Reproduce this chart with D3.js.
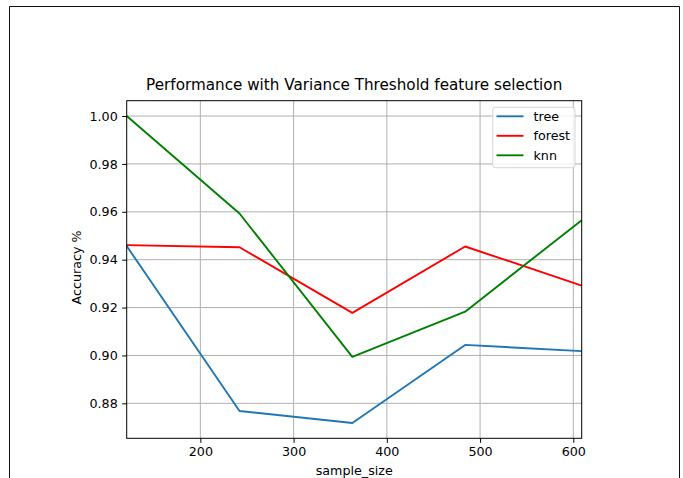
<!DOCTYPE html>
<html>
<head>
<meta charset="utf-8">
<script src="https://cdn.jsdelivr.net/npm/d3@7"></script>
<style>
  body { margin: 0; background: #fff; }
  svg { display: block; font-family: "DejaVu Sans", sans-serif; }
</style>
</head>
<body>
<svg id="chart" width="683" height="478"></svg>
<script>
// data
const sampleSizes = [121, 242, 363, 484, 609];
const treeAcc = [0.9457, 0.8768, 0.8718, 0.9044, 0.9018];
const forestAcc = [0.9461, 0.9452, 0.9178, 0.9455, 0.9292];
const knnAcc = [1.0, 0.9593, 0.8994, 0.9183, 0.9565];
const xTicks = [200, 300, 400, 500, 600];
const yTicks = [0.88, 0.90, 0.92, 0.94, 0.96, 0.98, 1.00];

const series = [
  { name: 'tree', values: treeAcc, color: '#1f77b4' },
  { name: 'forest', values: forestAcc, color: '#ff0000' },
  { name: 'knn', values: knnAcc, color: '#008000' }
];

const svg = d3.select('#chart');
const plotLeft = 126.7, plotRight = 581.7, plotTop = 100.7, plotBottom = 438.3;

// screenshot frame
svg.append('path')
  .attr('d', 'M9.5,478 L9.5,6.5 L679.5,6.5 L679.5,478')
  .attr('fill', 'none')
  .attr('stroke', '#111')
  .attr('stroke-width', 1);

const x = d3.scaleLinear().domain(d3.extent(sampleSizes)).range([plotLeft, plotRight]);
const allVals = series.flatMap(s => s.values);
const yMin = d3.min(allVals), yMax = d3.max(allVals);
const pad = (yMax - yMin) * 0.05;
const y = d3.scaleLinear().domain([yMin - pad, yMax + pad]).range([plotBottom, plotTop]);

// grid
const grid = svg.append('g').attr('stroke', '#b0b0b0').attr('stroke-width', 1);
xTicks.forEach(t => {
  grid.append('line').attr('x1', x(t)).attr('x2', x(t)).attr('y1', plotTop).attr('y2', plotBottom);
});
yTicks.forEach(t => {
  grid.append('line').attr('x1', plotLeft).attr('x2', plotRight).attr('y1', y(t)).attr('y2', y(t));
});

// lines
const line = d3.line().x((d, i) => x(sampleSizes[i])).y(d => y(d));
series.forEach(s => {
  svg.append('path')
    .datum(s.values)
    .attr('d', line)
    .attr('fill', 'none')
    .attr('stroke', s.color)
    .attr('stroke-width', 1.9)
    .attr('stroke-linejoin', 'round');
});

// axes
const xAxis = d3.axisBottom(x).tickValues(xTicks).tickFormat(d3.format('d'))
  .tickSize(4.5).tickPadding(4.5);
const yAxis = d3.axisLeft(y).tickValues(yTicks).tickFormat(d3.format('.2f'))
  .tickSize(4.5).tickPadding(4.5);

const gx = svg.append('g').attr('transform', `translate(0,${plotBottom})`).call(xAxis);
const gy = svg.append('g').attr('transform', `translate(${plotLeft},0)`).call(yAxis);
[gx, gy].forEach(g => {
  g.select('.domain').remove();
  g.selectAll('line').attr('stroke', '#000').attr('stroke-width', 1);
  g.selectAll('text').attr('font-size', 12.7).attr('fill', '#000')
    .attr('font-family', '"DejaVu Sans", sans-serif');
});

// spines
svg.append('rect')
  .attr('x', plotLeft).attr('y', plotTop)
  .attr('width', plotRight - plotLeft).attr('height', plotBottom - plotTop)
  .attr('fill', 'none').attr('stroke', '#000').attr('stroke-width', 1);

// title and labels
svg.append('text')
  .attr('x', (plotLeft + plotRight) / 2).attr('y', 89.5)
  .attr('text-anchor', 'middle').attr('font-size', 15.2).attr('fill', '#000')
  .text('Performance with Variance Threshold feature selection');

svg.append('text')
  .attr('x', (plotLeft + plotRight) / 2).attr('y', 474.5)
  .attr('text-anchor', 'middle').attr('font-size', 12.7).attr('fill', '#000')
  .text('sample_size');

svg.append('text')
  .attr('transform', `translate(81,${(plotTop + plotBottom) / 2 - 2}) rotate(-90)`)
  .attr('text-anchor', 'middle').attr('font-size', 12.7).attr('fill', '#000')
  .text('Accuracy %');

// legend
const lg = svg.append('g');
lg.append('rect')
  .attr('x', 492.7).attr('y', 107.3)
  .attr('width', 82.3).attr('height', 60.4)
  .attr('rx', 2.5)
  .attr('fill', '#fff').attr('fill-opacity', 0.8)
  .attr('stroke', '#cccccc').attr('stroke-opacity', 0.8).attr('stroke-width', 1);
series.forEach((s, i) => {
  const yy = 116.3 + i * 19.5;
  lg.append('line')
    .attr('x1', 496.5).attr('x2', 523.5).attr('y1', yy).attr('y2', yy)
    .attr('stroke', s.color).attr('stroke-width', 1.9);
  lg.append('text')
    .attr('x', 533.5).attr('y', yy).attr('dy', '0.35em')
    .attr('font-size', 12.7).attr('fill', '#000')
    .text(s.name);
});
</script>
</body>
</html>
